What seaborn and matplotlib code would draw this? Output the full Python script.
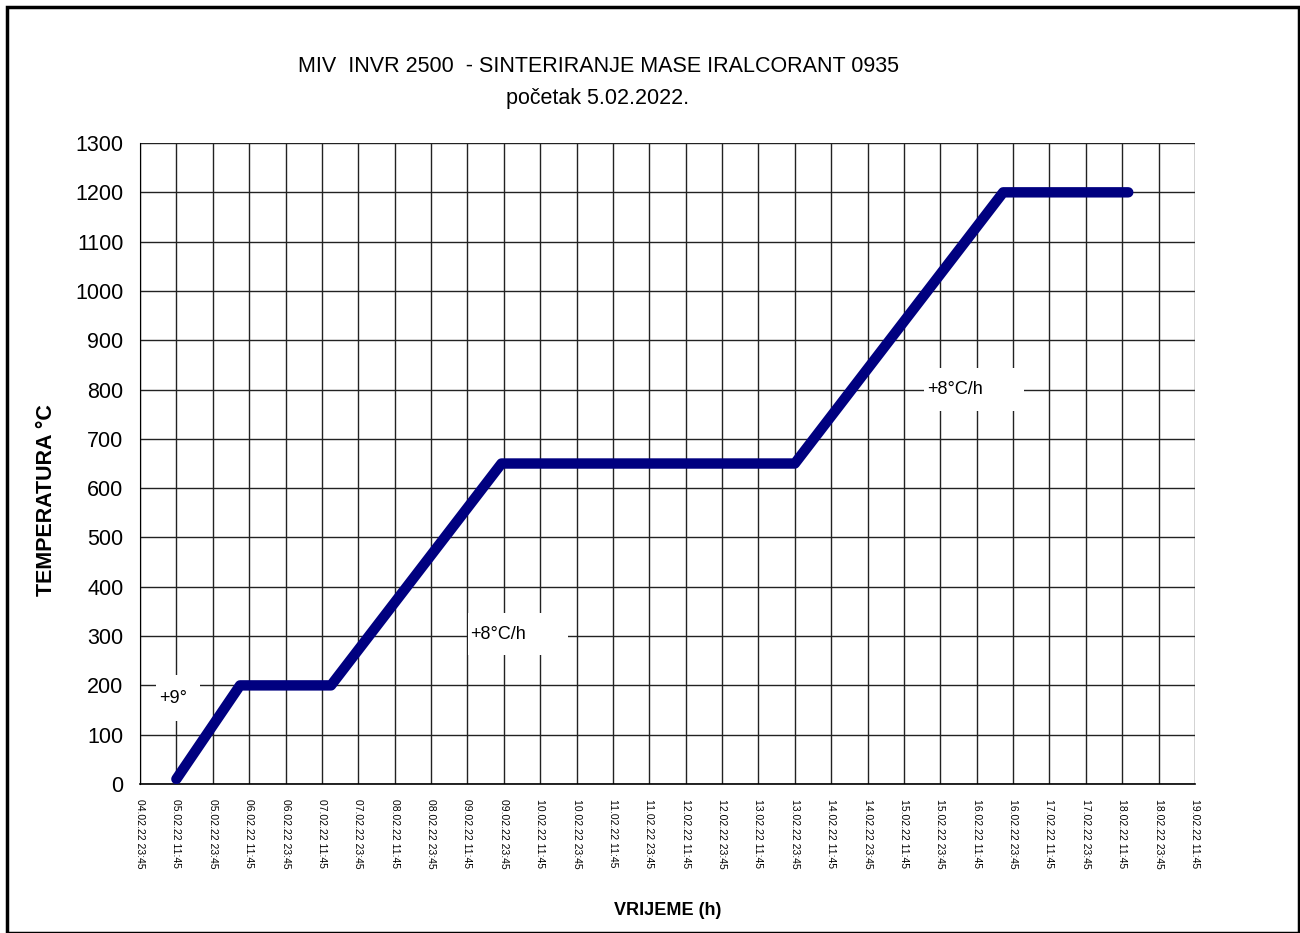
import pandas as pd
import matplotlib.pyplot as plt
import matplotlib.dates as mdates
import seaborn as sns

# breakpoints of the firing curve
times = ["2022-02-05 11:45", "2022-02-06 08:45", "2022-02-07 14:45",
         "2022-02-09 23:00", "2022-02-13 23:45", "2022-02-16 20:30",
         "2022-02-18 13:45"]
temps = [10, 200, 200, 650, 650, 1200, 1200]

# rate notes (text, text position)
notes = ["+9°", "+8°C/h", "+8°C/h"]
note_times = ["2022-02-05 06:00", "2022-02-09 12:30", "2022-02-15 19:30"]
note_temps = [174, 304, 800]

df = pd.DataFrame({"vrijeme": pd.to_datetime(times), "temp": temps})

sns.set_style("white")
plt.rcParams["font.family"] = ["Liberation Sans", "DejaVu Sans"]
plt.rcParams["text.color"] = "black"
plt.rcParams["axes.labelcolor"] = "black"

fig = plt.figure(figsize=(13, 9.33), dpi=100)
ax = fig.add_axes([0.1077, 0.1597, 0.8115, 0.687])

sns.lineplot(data=df, x="vrijeme", y="temp", ax=ax, color="#000080",
             linewidth=7.5, solid_capstyle="round", zorder=3)

x0 = pd.Timestamp("2022-02-04 23:45")
x1 = pd.Timestamp("2022-02-19 11:45")
ax.set_xlim(x0, x1)
ax.set_ylim(0, 1300)

major = pd.date_range(x0, x1, freq="12h")
minor = pd.date_range(x0, x1, freq="2h")
ax.set_xticks(major)
ax.set_xticks(minor, minor=True)
ax.xaxis.set_major_formatter(mdates.DateFormatter("%d.%m.%y %H:%M"))
ax.set_yticks(range(0, 1301, 100))

ax.grid(True, which="major", color="#222222", linewidth=1.0)
for s in ["top", "right"]:
    ax.spines[s].set_visible(False)
ax.spines["left"].set_color("black")
ax.spines["bottom"].set_color("black")
ax.spines["bottom"].set_linewidth(1.2)

ax.tick_params(axis="x", which="major", direction="inout", length=10,
               width=1, colors="black", labelsize=7.5, labelrotation=270, pad=6)
ax.tick_params(axis="x", which="minor", direction="in", length=4, width=1,
               colors="black")
ax.tick_params(axis="y", which="major", direction="out", length=6, width=1,
               colors="black", labelsize=15.5, pad=6)
for lbl in ax.get_xticklabels():
    lbl.set_va("top")
    lbl.set_ha("center")

ax.set_xlabel("VRIJEME (h)", fontsize=13, fontweight="bold")
ax.set_ylabel("TEMPERATURA °C", fontsize=15.5, fontweight="bold")
ax.xaxis.set_label_coords(0.5, -0.184)
ax.yaxis.set_label_coords(-0.079, 0.443)

# white boxes behind the notes: (width in hours, height in °C, offsets)
box_w = [14.5, 33, 33]
box_h = [93, 85, 88]
box_dx = [-1, -0.7, -1]
for t, tx, ty, bw, bh, dx in zip(notes, note_times, note_temps,
                                  box_w, box_h, box_dx):
    xs = pd.Timestamp(tx)
    ax.add_patch(plt.Rectangle((mdates.date2num(xs + pd.Timedelta(hours=dx)),
                                ty - bh / 2), bw / 24, bh,
                               facecolor="white", edgecolor="none", zorder=2.5))
    ax.text(xs, ty, t, fontsize=13, ha="left", va="center", zorder=4)

fig.text(0.46, 0.929, "MIV  INVR 2500  - SINTERIRANJE MASE IRALCORANT 0935",
         fontsize=15.5, ha="center", va="center")
fig.text(0.46, 0.894, "početak 5.02.2022.", fontsize=15.5, ha="center",
         va="center")

fig.patches.append(plt.Rectangle((0.005, 0.0), 0.994, 0.993,
                                 transform=fig.transFigure, fill=False,
                                 edgecolor="black", linewidth=2.5))

fig.savefig("out.png", dpi=100)
